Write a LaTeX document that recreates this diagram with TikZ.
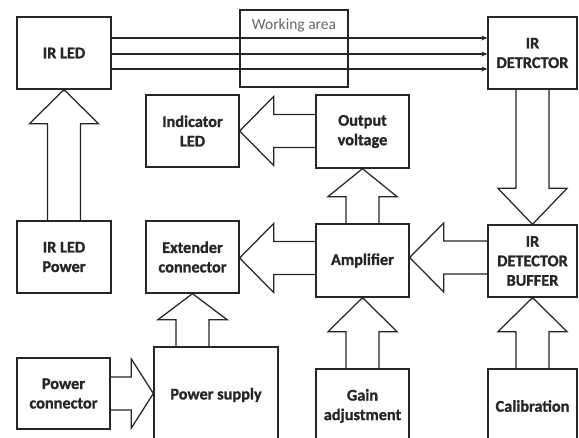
\documentclass[tikz,border=0pt]{standalone}
\usepackage{fontspec}
\setmainfont{Carlito}[BoldFeatures={FakeBold=1.2}]
\usetikzlibrary{calc,arrows.meta}
\tikzset{
  box/.style={draw=black!85, line width=1.3pt, align=center, inner sep=0pt,
    font=\fontsize{16.3}{19.5}\selectfont\bfseries, text=black!85},
  blk/.style={draw=black!85, line width=1.25pt, line join=miter},
  ray/.style={draw=black!85, line width=1.2pt, -{Stealth[length=6pt,width=5pt]}},
  lbl/.style={font=\fontsize{15.5}{18}\selectfont, text=black!60, inner sep=0pt}
}
% block arrows: #1 source node, #2 target node, #3 head length (pt)
\newcommand{\blkup}[3]{\draw[blk] let \p1=(#1.north), \p2=(#2.south) in
  ({\x2-16.5pt},\y1) -- ({\x2-16.5pt},{\y2-#3pt}) -- ({\x2-34.5pt},{\y2-#3pt}) -- (\x2,\y2)
  -- ({\x2+34.5pt},{\y2-#3pt}) -- ({\x2+16.5pt},{\y2-#3pt}) -- ({\x2+16.5pt},\y1);}
\newcommand{\blkdown}[3]{\draw[blk] let \p1=(#1.south), \p2=(#2.north) in
  ({\x2-16.5pt},\y1) -- ({\x2-16.5pt},{\y2+#3pt}) -- ({\x2-34.5pt},{\y2+#3pt}) -- (\x2,\y2)
  -- ({\x2+34.5pt},{\y2+#3pt}) -- ({\x2+16.5pt},{\y2+#3pt}) -- ({\x2+16.5pt},\y1);}
\newcommand{\blkleft}[4][0]{\draw[blk] let \p1=(#2.west), \p2=(#3.east) in
  (\x1,{\y2+#1pt+16.5pt}) -- ({\x2+#4pt},{\y2+#1pt+16.5pt}) -- ({\x2+#4pt},{\y2+#1pt+34.5pt}) -- (\x2,{\y2+#1pt})
  -- ({\x2+#4pt},{\y2+#1pt-34.5pt}) -- ({\x2+#4pt},{\y2+#1pt-16.5pt}) -- (\x1,{\y2+#1pt-16.5pt});}
\newcommand{\blkright}[3]{\draw[blk] let \p1=(#1.east), \p2=(#2.west) in
  (\x1,{\y1+16.5pt}) -- ({\x2-#3pt},{\y1+16.5pt}) -- ({\x2-#3pt},{\y1+34.5pt}) -- (\x2,\y1)
  -- ({\x2-#3pt},{\y1-34.5pt}) -- ({\x2-#3pt},{\y1-16.5pt}) -- (\x1,{\y1-16.5pt});}

\begin{document}
\begin{tikzpicture}[x=1pt,y=-1pt]
\clip (0,0) rectangle (579,438);
\fill[white] (0,0) rectangle (579,438);

% row 1
\node[box, minimum width=94pt, minimum height=72pt] (irled) at (64,53) {IR LED};
\node[draw=black!85, line width=1.3pt, minimum width=108pt, minimum height=77pt, inner sep=0pt] (work) at (294,48.5) {};
\node[lbl] (worklbl) at (294,25) {Working area};
\node[box, minimum width=89pt, minimum height=72pt] (det) at (532.5,53) {IR\\DETRCTOR};

% row 2
\node[box, minimum width=93pt, minimum height=72pt] (ind) at (192.5,131) {Indicator\\LED};
\node[box, minimum width=93pt, minimum height=73pt] (out) at (362.5,131.5) {Output\\voltage};

% row 3
\node[box, minimum width=94pt, minimum height=72pt] (irledp) at (64,257) {IR LED\\Power};
\node[box, minimum width=93pt, minimum height=72pt] (ext) at (192.5,257) {Extender\\connector};
\node[box, minimum width=93pt, minimum height=73pt] (amp) at (362.5,260.5) {Amplifier};
\node[box, minimum width=89pt, minimum height=72pt] (buf) at (532.5,261) {IR\\DETECTOR\\BUFFER};

% row 4
\node[box, minimum width=93pt, minimum height=71pt] (pconn) at (63.5,393.5) {Power\\connector};
\node[box, minimum width=124pt, minimum height=96pt] (psup) at (216,395) {Power supply};
\node[box, minimum width=93pt, minimum height=74pt] (gain) at (362.5,406) {Gain\\adjustment};
\node[box, minimum width=89pt, minimum height=74pt] (cal) at (532.5,406) {Calibration};

% rays through the working area
\draw[ray] ([yshift=15pt]irled.east) -- ([yshift=15pt]irled.east -| det.west);
\draw[ray] ([yshift=-1pt]irled.east) -- ([yshift=-1pt]irled.east -| det.west);
\draw[ray] ([yshift=-16pt]irled.east) -- ([yshift=-16pt]irled.east -| det.west);

% block arrows
\blkup{irledp}{irled}{34}
\blkup{amp}{out}{28}
\blkdown{det}{buf}{36}
\blkup{psup}{ext}{26}
\blkup{gain}{amp}{34}
\blkup{cal}{buf}{34}
\blkleft{out}{ind}{34}
\blkleft[-1]{amp}{ext}{34}
\blkleft[3]{buf}{amp}{34}
\blkright{pconn}{psup}{22}
\end{tikzpicture}
\end{document}
